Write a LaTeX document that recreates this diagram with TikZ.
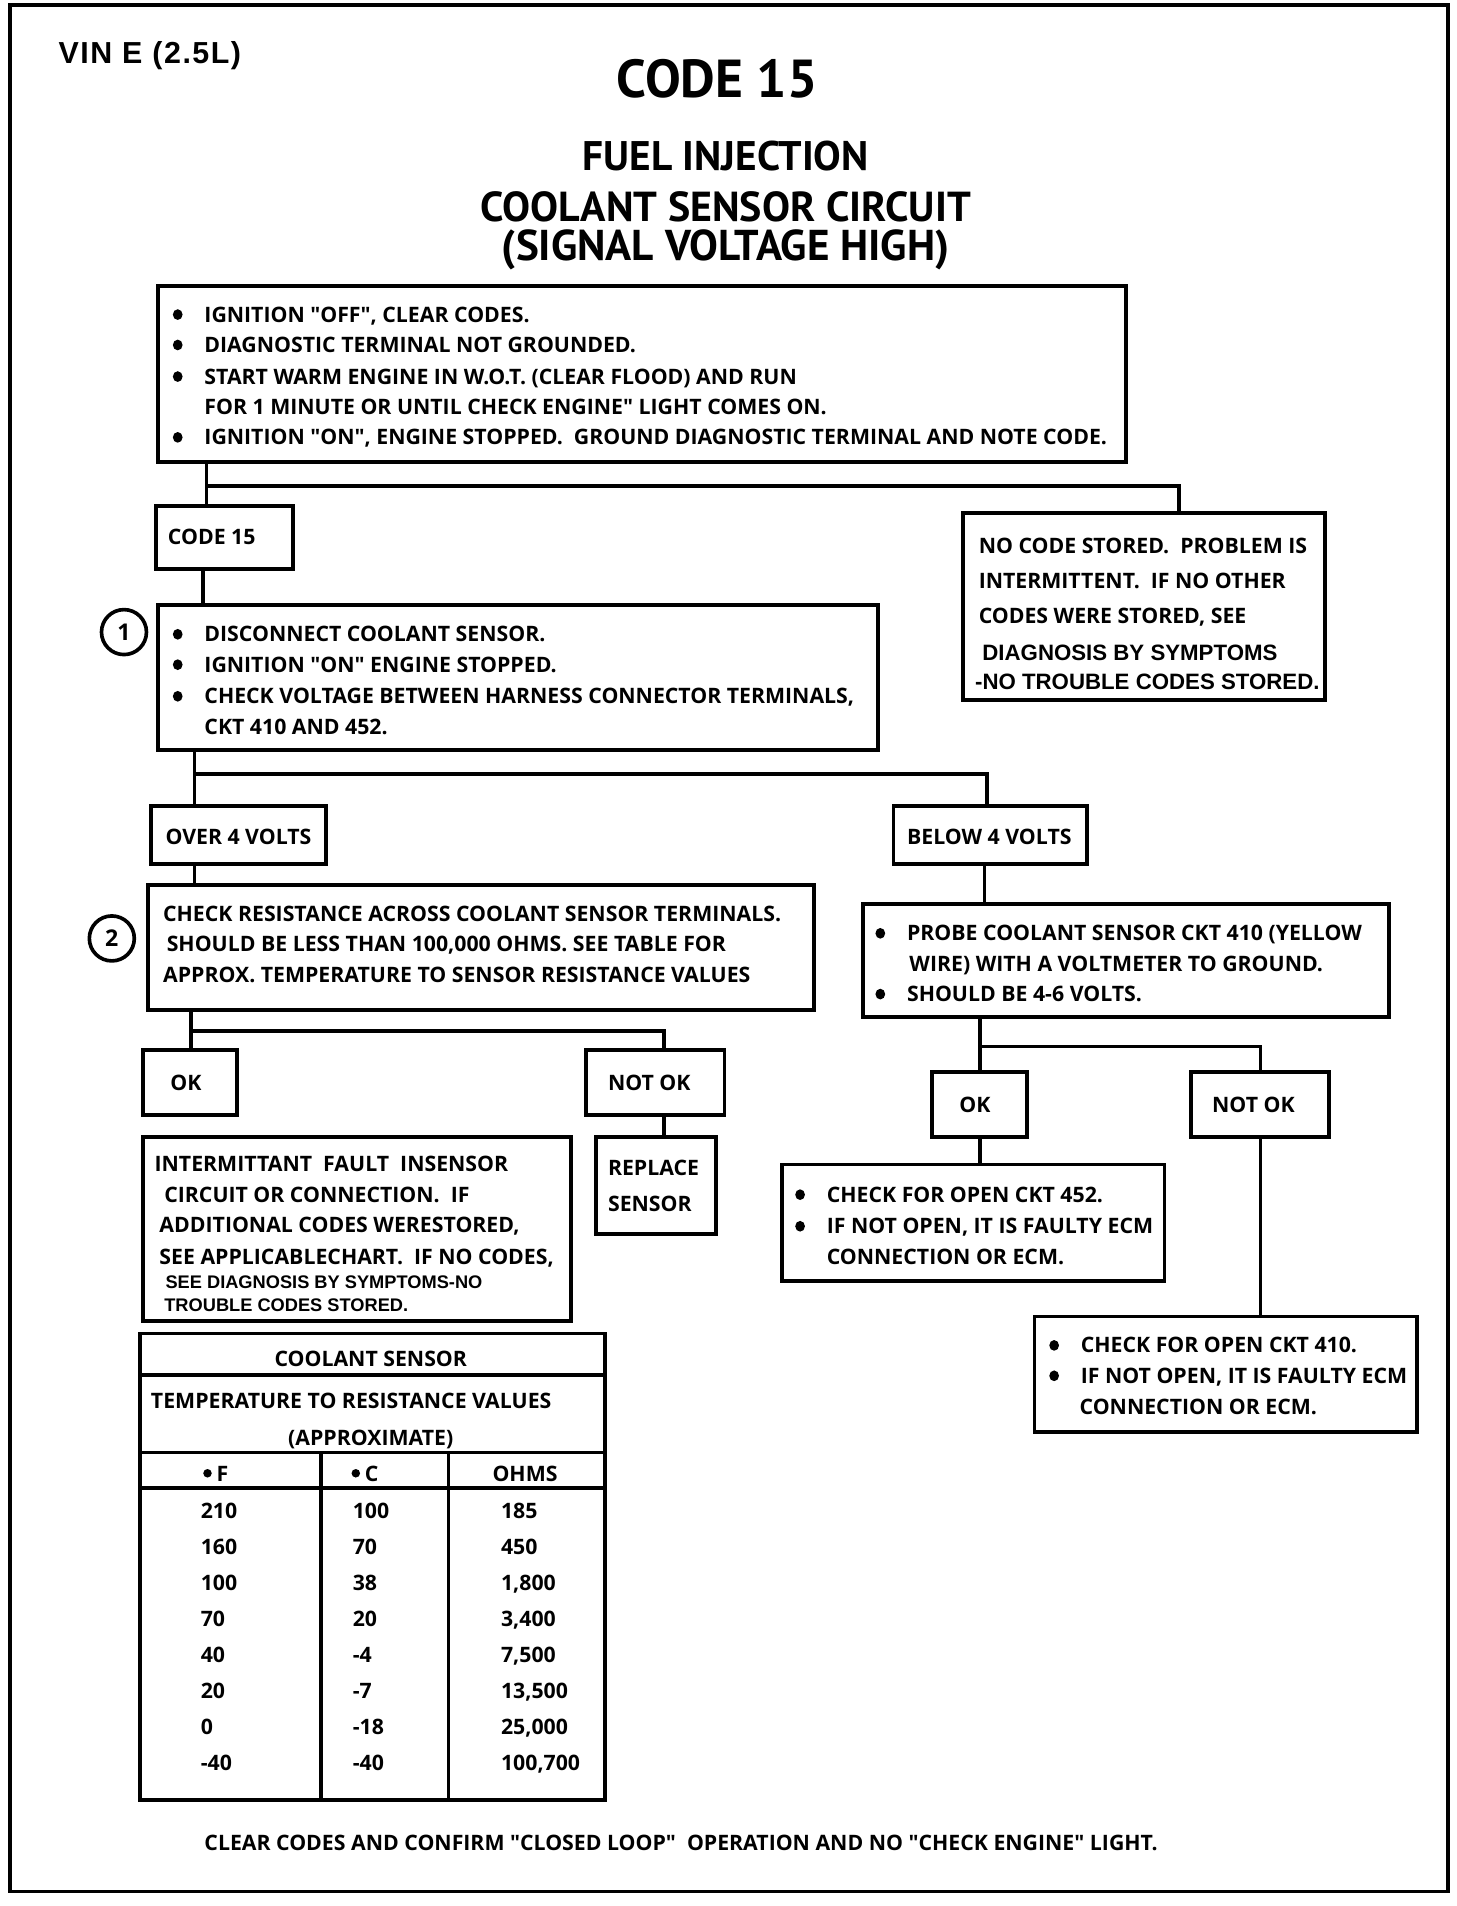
\documentclass[tikz,border=0pt]{standalone}
\usepackage{fontspec}
\setmainfont{Liberation Sans}
\newfontfamily\cf{Open Sans}
\newfontfamily\tf{PT Sans}
\newfontfamily\af{Liberation Sans}
\newcommand\bul{\makebox[26pt][l]{\tikz[baseline=0pt]\fill (4pt,6.2pt) circle[x radius=4pt, y radius=4.4pt];}}
\newcommand\degdot{\makebox[11pt][l]{\tikz[baseline=0pt]\fill (3.5pt,7pt) circle[radius=3.5pt];}}
\begin{document}
\begin{tikzpicture}[x=1pt,y=-1pt,
  box/.style={draw, line width=3.2pt, rectangle, inner sep=0pt, outer sep=0pt, anchor=north west},
  conn/.style={line width=3pt},
  t/.style={anchor=base west, inner sep=0pt, font=\cf\bfseries\fontsize{17.5}{20}\selectfont},
  ta/.style={anchor=base west, inner sep=0pt, font=\af\bfseries\fontsize{18.3}{20}\selectfont},
  ts/.style={anchor=base west, inner sep=0pt, font=\af\bfseries\fontsize{15}{17}\selectfont},
  tc/.style={anchor=base, inner sep=0pt, font=\cf\bfseries\fontsize{17.5}{20}\selectfont},
  ttl/.style={anchor=base, inner sep=0pt},
  num/.style={draw, circle, line width=3pt, minimum size=37pt, inner sep=0pt, font=\cf\bfseries\fontsize{19}{20}\selectfont}
]
\useasboundingbox (0,0) rectangle (1198,1568);
\draw[line width=3pt] (8,4) rectangle (1191,1556);

% titles
\node[anchor=base west, inner sep=0pt, font=\af\bfseries\fontsize{25}{27}\selectfont\addfontfeature{LetterSpace=5}] (vin) at (48,52) {VIN E (2.5L)};
\node[ttl, font=\tf\bfseries\fontsize{44}{50}\selectfont] (code) at (590,80) {CODE 15};
\node[ttl, font=\tf\bfseries\fontsize{34}{40}\selectfont] (fuel) at (597,140) {FUEL INJECTION};
\node[ttl, font=\tf\bfseries\fontsize{34.5}{40}\selectfont] (cool) at (597,182) {COOLANT SENSOR CIRCUIT};
\node[ttl, font=\tf\bfseries\fontsize{35.5}{40}\selectfont] (sig) at (597,214) {(SIGNAL VOLTAGE HIGH)};

% boxes
\node[box, minimum width=796pt, minimum height=145pt] (b1) at (130,235) {};
\node[box, minimum width=113pt, minimum height=52pt] (c15) at (128,416) {};
\node[box, minimum width=298pt, minimum height=154pt] (nc) at (792,422) {};
\node[box, minimum width=592pt, minimum height=119pt] (b2) at (130,498) {};
\node[box, minimum width=144pt, minimum height=48pt] (over) at (124,663) {};
\node[box, minimum width=159pt, minimum height=48pt] (below) at (735,663) {};
\node[box, minimum width=548pt, minimum height=103pt] (b3) at (122,728) {};
\node[box, minimum width=433pt, minimum height=93pt] (probe) at (710,744) {};
\node[box, minimum width=77pt, minimum height=53pt] (okl) at (118,864) {};
\node[box, minimum width=114pt, minimum height=53pt] (nokl) at (482,864) {};
\node[box, minimum width=99pt, minimum height=80pt] (rep) at (490,935) {};
\node[box, minimum width=352pt, minimum height=152pt] (intm) at (118,935) {};
\node[box, minimum width=78pt, minimum height=53pt] (okr) at (767,882) {};
\node[box, minimum width=113pt, minimum height=53pt] (nokr) at (980,882) {};
\node[box, minimum width=315pt, minimum height=96pt] (c452) at (643,958) {};
\node[box, minimum width=315pt, minimum height=95pt] (c410) at (851,1083) {};
\node[box, minimum width=383pt, minimum height=384pt] (tab) at (115,1097) {};

% circled numbers
\node[num] (n1) at (102,520) {1};
\node[num] (n2) at (92,772) {2};

% connector coordinates
\coordinate (x1) at (170,400);
\coordinate (x1r) at (970,400);
\coordinate (x2) at (167,0);
\coordinate (x3) at (160,637);
\coordinate (x3r) at (812,637);
\coordinate (x4) at (810,0);
\coordinate (x5) at (157,848);
\coordinate (x5r) at (546,848);
\coordinate (x6) at (806,861);
\coordinate (x6r) at (1037,861);

\draw[conn] (b1.south -| x1) -- (c15.north -| x1);
\draw[conn] (x1) -- (x1r) -- (nc.north -| x1r);
\draw[conn] (c15.south -| x2) -- (b2.north -| x2);
\draw[conn] (b2.south -| x3) -- (over.north -| x3);
\draw[conn] (x3) -- (x3r) -- (below.north -| x3r);
\draw[conn] (over.south -| x3) -- (b3.north -| x3);
\draw[conn] (below.south -| x4) -- (probe.north -| x4);
\draw[conn] (b3.south -| x5) -- (okl.north -| x5);
\draw[conn] (x5) -- (x5r) -- (nokl.north -| x5r);
\draw[conn] (nokl.south -| x5r) -- (rep.north -| x5r);
\draw[conn] (probe.south -| x6) -- (okr.north -| x6);
\draw[conn] (x6) -- (x6r) -- (nokr.north -| x6r);
\draw[conn] (okr.south -| x6) -- (c452.north -| x6);
\draw[conn] (nokr.south -| x6r) -- (c410.north -| x6r);

% box 1 text
\node[t] (t1a) at (142,265) {\bul IGNITION "OFF", CLEAR CODES.};
\node[t] (t1b) at (142,290) {\bul DIAGNOSTIC TERMINAL NOT GROUNDED.};
\node[t] (t1c) at (142,316) {\bul START WARM ENGINE IN W.O.T. (CLEAR FLOOD) AND RUN};
\node[t] (t1d) at (168,341) {FOR 1 MINUTE OR UNTIL CHECK ENGINE" LIGHT COMES ON.};
\node[t] (t1e) at (142,366) {\bul IGNITION "ON", ENGINE STOPPED.\ \ GROUND DIAGNOSTIC TERMINAL AND NOTE CODE.};

\node[t] (tc15) at (138,448) {CODE 15};

\node[t] (tn1) at (805,455) {NO CODE STORED.\ \ PROBLEM IS};
\node[t] (tn2) at (805,484) {INTERMITTENT.\ \ IF NO OTHER};
\node[t] (tn3) at (805,513) {CODES WERE STORED, SEE};
\node[ta] (tn4) at (808,543) {DIAGNOSIS BY SYMPTOMS};
\node[ta] (tn5) at (802,567) {-NO TROUBLE CODES STORED.};

\node[t] (t2a) at (142,528) {\bul DISCONNECT COOLANT SENSOR.};
\node[t] (t2b) at (142,553) {\bul IGNITION "ON" ENGINE STOPPED.};
\node[t] (t2c) at (142,579) {\bul CHECK VOLTAGE BETWEEN HARNESS CONNECTOR TERMINALS,};
\node[t] (t2d) at (168,604) {CKT 410 AND 452.};

\node[t] (tover) at (136,695) {OVER 4 VOLTS};
\node[t] (tbelow) at (746,695) {BELOW 4 VOLTS};

\node[t] (t3a) at (134,758) {CHECK RESISTANCE ACROSS COOLANT SENSOR TERMINALS.};
\node[t] (t3b) at (137,783) {SHOULD BE LESS THAN 100,000 OHMS. SEE TABLE FOR};
\node[t] (t3c) at (134,808) {APPROX. TEMPERATURE TO SENSOR RESISTANCE VALUES};

\node[t] (tp1) at (720,774) {\bul PROBE COOLANT SENSOR CKT 410 (YELLOW};
\node[t] (tp2) at (748,799) {WIRE) WITH A VOLTMETER TO GROUND.};
\node[t] (tp3) at (720,824) {\bul SHOULD BE 4-6 VOLTS.};

\node[t] (tokl) at (140,897) {OK};
\node[t] (tnokl) at (500,897) {NOT OK};
\node[t] (trep1) at (500,967) {REPLACE};
\node[t] (trep2) at (500,997) {SENSOR};

\node[t] (ti1) at (127,964) {INTERMITTANT\ \ FAULT\ \ INSENSOR};
\node[t] (ti2) at (135,989) {CIRCUIT OR CONNECTION.\ \ IF};
\node[t] (ti3) at (131,1014) {ADDITIONAL CODES WERESTORED,};
\node[t] (ti4) at (131,1040) {SEE APPLICABLECHART.\ \ IF NO CODES,};
\node[ts] (ti5) at (136,1060) {SEE DIAGNOSIS BY SYMPTOMS-NO};
\node[ts] (ti6) at (135,1079) {TROUBLE CODES STORED.};

\node[t] (tokr) at (789,915) {OK};
\node[t] (tnokr) at (997,915) {NOT OK};

\node[t] (tc1) at (654,989) {\bul CHECK FOR OPEN CKT 452.};
\node[t] (tc2) at (654,1015) {\bul IF NOT OPEN, IT IS FAULTY ECM};
\node[t] (tc3) at (680,1040) {CONNECTION OR ECM.};

\node[t] (td1) at (863,1113) {\bul CHECK FOR OPEN CKT 410.};
\node[t] (td2) at (863,1138) {\bul IF NOT OPEN, IT IS FAULTY ECM};
\node[t] (td3) at (888,1164) {CONNECTION OR ECM.};

% table
\draw[line width=3pt] (tab.west |- 0,1131) -- (tab.east |- 0,1131);
\draw[line width=3pt] (tab.west |- 0,1195) -- (tab.east |- 0,1195);
\draw[line width=3pt] (tab.west |- 0,1224) -- (tab.east |- 0,1224);
\draw[line width=3pt] (264,1195) -- (tab.south -| 264,0);
\draw[line width=3pt] (369,1195) -- (tab.south -| 369,0);
\node[tc] (th1) at (305,1124) {COOLANT SENSOR};
\node[t] (th2) at (124,1159) {TEMPERATURE TO RESISTANCE VALUES};
\node[tc] (th3) at (305,1189) {(APPROXIMATE)};
\node[t] (hf) at (167,1219) {\degdot F};
\node[t] (hc) at (289,1219) {\degdot C};
\node[t] (ho) at (405,1219) {OHMS};
\foreach \f/\c/\o [count=\i] in {210/100/185,160/70/450,100/38/{1,800},70/20/{3,400},40/-4/{7,500},20/-7/{13,500},0/-18/{25,000},-40/-40/{100,700}}{
  \pgfmathsetmacro\yy{1249+29.7*(\i-1)}
  \node[t] (rf\i) at (165,\yy) {\f};
  \node[t] (rc\i) at (290,\yy) {\c};
  \node[t] (ro\i) at (412,\yy) {\o};
}

\node[t] (bottom) at (168,1522) {CLEAR CODES AND CONFIRM "CLOSED LOOP"\ \ OPERATION AND NO "CHECK ENGINE" LIGHT.};
\end{tikzpicture}
\end{document}
